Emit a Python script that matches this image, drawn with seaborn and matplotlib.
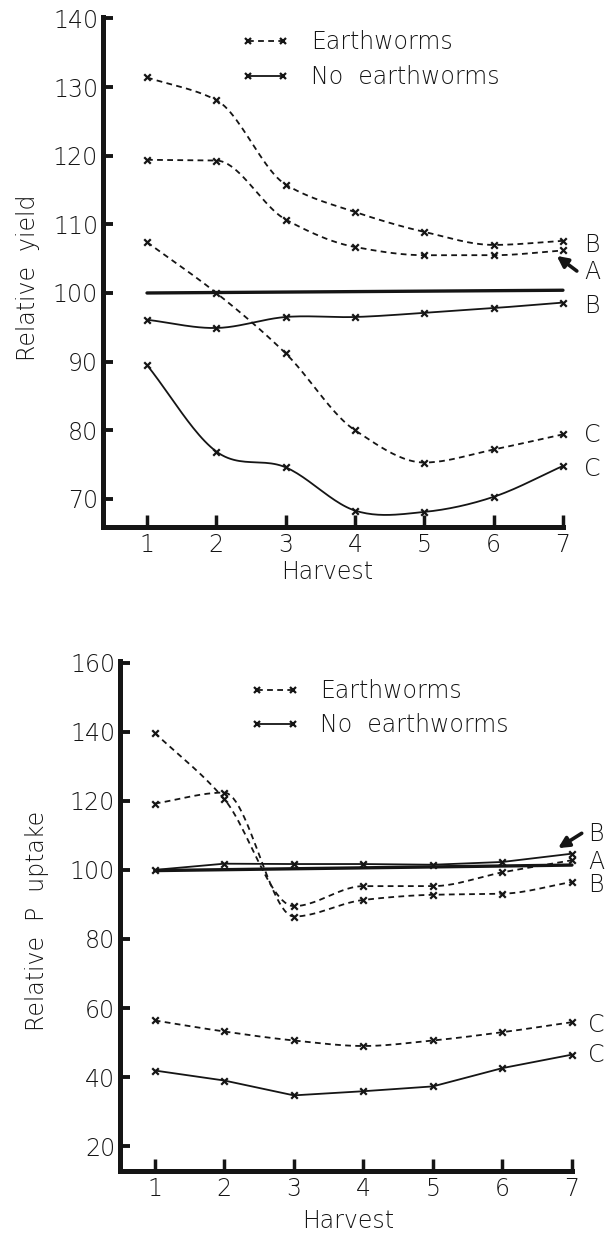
import numpy as np
import pandas as pd
import matplotlib
matplotlib.use("Agg")
import matplotlib.pyplot as plt
from matplotlib.lines import Line2D
import seaborn as sns

# ---- data ---------------------------------------------------------------
harvest = [1, 2, 3, 4, 5, 6, 7]

# Relative yield
yield_worms_B = [131.4, 128.1, 115.8, 111.8, 108.9, 107.0, 107.6]
yield_worms_A = [119.4, 119.3, 110.7, 106.7, 105.5, 105.5, 106.2]
yield_worms_C = [107.4, 100.0, 91.2, 80.0, 75.3, 77.2, 79.4]
yield_none_B = [96.1, 94.9, 96.5, 96.5, 97.1, 97.8, 98.6]
yield_none_C = [89.5, 76.9, 74.6, 68.3, 68.1, 70.3, 74.8]
yield_control = [100.0, 100.4]

# Relative P uptake
p_worms_A = [139.7, 120.5, 89.5, 95.3, 95.3, 99.3, 102.8]
p_worms_B = [119.2, 122.4, 86.5, 91.3, 92.8, 93.1, 96.5]
p_worms_C = [56.4, 53.2, 50.6, 49.0, 50.6, 53.0, 55.9]
p_none_B = [100.0, 101.8, 101.7, 101.7, 101.5, 102.3, 104.7]
p_none_C = [41.9, 39.0, 34.7, 35.9, 37.3, 42.6, 46.5]
p_control = [99.8, 101.4]

yield_ticks = [70, 80, 90, 100, 110, 120, 130, 140]
p_ticks = [20, 40, 60, 80, 100, 120, 140, 160]

INK = "#151515"
FS = 17

sns.set_theme(style="ticks")
plt.rcParams["font.family"] = ["DejaVu Sans"]
plt.rcParams["font.weight"] = "light"
plt.rcParams["text.color"] = INK
plt.rcParams["axes.labelcolor"] = INK
plt.rcParams["xtick.color"] = INK
plt.rcParams["ytick.color"] = INK


def catmull_rom(x, y, n=24):
    """Smooth curve through the given points (uniform Catmull-Rom)."""
    p = np.column_stack([x, y]).astype(float)
    p = np.vstack([2 * p[0] - p[1], p, 2 * p[-1] - p[-2]])
    out = []
    t = np.linspace(0, 1, n, endpoint=False)[:, None]
    for i in range(1, len(p) - 2):
        p0, p1, p2, p3 = p[i - 1], p[i], p[i + 1], p[i + 2]
        seg = 0.5 * (2 * p1 + (-p0 + p2) * t
                     + (2 * p0 - 5 * p1 + 4 * p2 - p3) * t ** 2
                     + (-p0 + 3 * p1 - 3 * p2 + p3) * t ** 3)
        out.append(seg)
    out.append(p[-2][None, :])
    c = np.vstack(out)
    return c[:, 0], c[:, 1]


def pchip(x, y, n=24):
    """Shape-preserving cubic through the points (no overshoot)."""
    x = np.asarray(x, float)
    y = np.asarray(y, float)
    h = np.diff(x)
    d = np.diff(y) / h
    m = np.zeros_like(y)
    for k in range(1, len(y) - 1):
        if d[k - 1] * d[k] > 0:
            w1 = 2 * h[k] + h[k - 1]
            w2 = h[k] + 2 * h[k - 1]
            m[k] = (w1 + w2) / (w1 / d[k - 1] + w2 / d[k])
    m[0] = d[0]
    m[-1] = d[-1]
    xs, ys = [], []
    t = np.linspace(0, 1, n, endpoint=False)
    for k in range(len(x) - 1):
        h00 = 2 * t ** 3 - 3 * t ** 2 + 1
        h10 = t ** 3 - 2 * t ** 2 + t
        h01 = -2 * t ** 3 + 3 * t ** 2
        h11 = t ** 3 - t ** 2
        xs.append(x[k] + t * h[k])
        ys.append(h00 * y[k] + h10 * h[k] * m[k] + h01 * y[k + 1]
                  + h11 * h[k] * m[k + 1])
    xs.append([x[-1]])
    ys.append([y[-1]])
    return np.concatenate(xs), np.concatenate(ys)


def draw_series(ax, y, dashed, curve="cr"):
    if curve == "cr":
        cx, cy = catmull_rom(harvest, y)
    elif curve == "pchip":
        cx, cy = pchip(harvest, y)
    else:
        cx, cy = np.array(harvest, float), np.array(y, float)
    df = pd.DataFrame({"x": cx, "y": cy})
    sns.lineplot(data=df, x="x", y="y", ax=ax, sort=False, estimator=None,
                 color=INK, lw=1.3, linestyle=(0, (3.2, 2.4)) if dashed else "-")
    pts = pd.DataFrame({"x": harvest, "y": y})
    sns.scatterplot(data=pts, x="x", y="y", ax=ax, marker="x", s=22,
                    color=INK, linewidth=1.6, zorder=4)


def style_axes(ax, ylim, xlim, yticks):
    ax.set_xlim(*xlim)
    ax.set_ylim(*ylim)
    ax.set_yticks(yticks)
    ax.set_xticks(harvest)
    ax.set_yticklabels([str(v) for v in yticks])
    ax.set_xticklabels([str(v) for v in harvest])
    sns.despine(ax=ax)
    for s in ("left", "bottom"):
        ax.spines[s].set_linewidth(3.6)
        ax.spines[s].set_color(INK)
        ax.spines[s].set_capstyle("projecting")
    ax.tick_params(axis="y", direction="in", length=7.5, width=2.8, pad=3.5,
                   labelsize=FS)
    ax.tick_params(axis="x", direction="in", length=9, width=2.5, pad=4.5,
                   labelsize=FS)
    for t in ax.get_xticklabels() + ax.get_yticklabels():
        t.set_fontweight("light")
    for art in ax.get_lines() + ax.collections:
        art.set_clip_on(False)


def draw_legend(ax, anchor, spacing):
    handles = [
        Line2D([0], [0], color=INK, lw=1.3, linestyle=(0, (3.2, 2.4)),
               marker="x", markersize=4.5, markeredgewidth=1.6),
        Line2D([0], [0], color=INK, lw=1.3, linestyle="-",
               marker="x", markersize=4.5, markeredgewidth=1.6),
    ]
    leg = ax.legend(handles, ["Earthworms", "No  earthworms"],
                    loc="upper left", bbox_to_anchor=anchor, frameon=False,
                    fontsize=FS, numpoints=2, handlelength=2.1,
                    handletextpad=0.85, labelspacing=spacing,
                    borderpad=0, borderaxespad=0)
    for t in leg.get_texts():
        t.set_fontweight("light")


def label(ax, x, y, s):
    ax.text(x, y, s, fontsize=FS, ha="left", va="center", color=INK,
            fontweight="light", clip_on=False)


def arrow(ax, tip, tail):
    ax.annotate("", xy=tip, xytext=tail, annotation_clip=False,
                arrowprops=dict(arrowstyle="-|>", lw=2.6, color=INK,
                                mutation_scale=16, shrinkA=0, shrinkB=0))


fig = plt.figure(figsize=(6.09, 12.36), dpi=100)
fig.patch.set_facecolor("white")

# ---- relative yield ----------------------------------------------------
ax1 = fig.add_axes([0.1691, 0.5736, 0.7553, 0.4126])
sns.lineplot(x=[1, 7], y=yield_control, ax=ax1, color=INK, lw=2.4)
for ys in (yield_worms_B, yield_worms_A, yield_worms_C):
    draw_series(ax1, ys, dashed=True, curve="pchip")
for ys in (yield_none_B, yield_none_C):
    draw_series(ax1, ys, dashed=False)
style_axes(ax1, (65.9, 140.2), (0.365, 7.0), yield_ticks)
ax1.set_xlabel("Harvest", fontsize=FS, fontweight="light")
ax1.set_ylabel("Relative  yield", fontsize=FS, fontweight="light")
ax1.xaxis.set_label_coords(0.487, -0.064)
ax1.yaxis.set_label_coords(-0.137, 0.488)
draw_legend(ax1, (0.30, 0.974), 0.45)
label(ax1, 7.31, 107.0, "B")
label(ax1, 7.31, 103.0, "A")
label(ax1, 7.31, 98.1, "B")
label(ax1, 7.31, 79.3, "C")
label(ax1, 7.31, 74.4, "C")
arrow(ax1, (6.91, 105.4), (7.2, 103.2))

# ---- relative P uptake -------------------------------------------------
ax2 = fig.add_axes([0.1970, 0.0526, 0.7422, 0.4126])
sns.lineplot(x=[1, 7], y=p_control, ax=ax2, color=INK, lw=2.4)
for ys in (p_worms_A, p_worms_B, p_worms_C):
    draw_series(ax2, ys, dashed=True, curve="pchip")
for ys in (p_none_B, p_none_C):
    draw_series(ax2, ys, dashed=False, curve="line")
style_axes(ax2, (12.8, 160.5), (0.5, 7.0), p_ticks)
ax2.set_xlabel("Harvest", fontsize=FS, fontweight="light")
ax2.set_ylabel("Relative  P  uptake", fontsize=FS, fontweight="light")
ax2.xaxis.set_label_coords(0.505, -0.074)
ax2.yaxis.set_label_coords(-0.157, 0.49)
draw_legend(ax2, (0.288, 0.964), 0.41)
label(ax2, 7.23, 110.4, "B")
label(ax2, 7.23, 102.3, "A")
label(ax2, 7.23, 95.7, "B")
label(ax2, 7.23, 55.1, "C")
label(ax2, 7.23, 46.4, "C")
arrow(ax2, (6.8, 106.3), (7.14, 110.6))

fig.savefig("out.png", dpi=100, facecolor="white")
